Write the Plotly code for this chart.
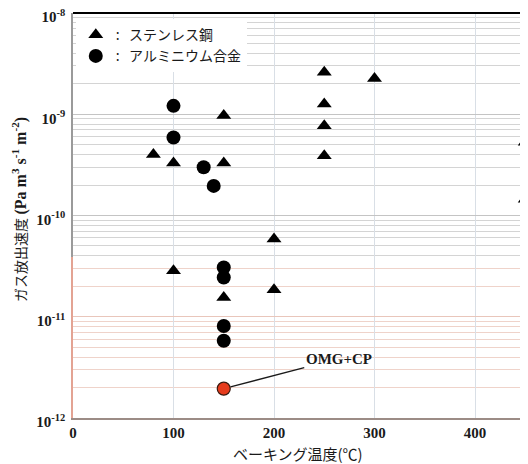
import numpy as np
import plotly.graph_objects as go

# ---------------- data ----------------
steel_name = "ステンレス鋼"
al_name = "アルミニウム合金"

steel_temp = [80, 100, 100, 150, 150, 150, 200, 200, 250, 250, 250, 250, 300, 450, 450]
steel_rate = [4.0e-10, 3.3e-10, 2.85e-11, 9.7e-10, 3.3e-10, 1.55e-11, 5.85e-11, 1.85e-11,
              2.6e-9, 1.26e-9, 7.7e-10, 3.9e-10, 2.25e-9, 5.3e-10, 1.45e-10]

al_temp = [100, 100, 130, 140, 150, 150, 150, 150]
al_rate = [1.21e-9, 5.9e-10, 3.0e-10, 1.96e-10, 3.06e-11, 2.44e-11, 8.1e-12, 5.8e-12]

omg_temp = [150]
omg_rate = [1.95e-12]
omg_label = "OMG+CP"

x_tick_vals = [0, 100, 200, 300, 400]
y_major_vals = [1e-8, 1e-9, 1e-10, 1e-11, 1e-12]
y_major_text = ["10<sup>-8</sup>", "10<sup>-9</sup>", "10<sup>-10</sup>",
                "10<sup>-11</sup>", "10<sup>-12</sup>"]
x_title = "ベーキング温度(℃)"
y_title = ("ガス放出速度 <span style='font-size:16px'><b>(Pa m<sup>3</sup> "
           "s<sup>-1</sup> m<sup>-2</sup>)</b></span>")

# ---------------- layout constants ----------------
# the page body has an 8px default margin, so screen = figure + OFF
OFF = 8
W, H = 528, 464
SCR_L, SCR_T, SCR_B = 73, 13, 418          # plot-area edges on screen
ML, MT = SCR_L - OFF, SCR_T - OFF
MB = H - (SCR_B - OFF)
MR = 0
PW, PH = W - ML - MR, H - MT - MB
PX_PER_DEG = (475 - 73) / 400.0
X_MAX = PW / PX_PER_DEG
Y_LO, Y_HI = -12.0, -8.0
SPLIT = -10.408                            # scan colour change (grey above, salmon below)
frac = (SPLIT - Y_LO) / (Y_HI - Y_LO)

SERIF = "Liberation Serif, Noto Sans CJK JP"
CJK = "Noto Sans CJK JP"

minor_vals = [m * 10.0 ** e for e in range(-12, -8) for m in range(2, 10)]


def split(xs, ys):
    xs, ys = np.asarray(xs, float), np.asarray(ys, float)
    up = np.log10(ys) >= SPLIT
    return (xs[up], ys[up]), (xs[~up], ys[~up])


def px_x(sx):
    return (sx - SCR_L) / PW


def px_y(sy):
    return (SCR_B - sy) / PH


fig = go.Figure()

tri = dict(symbol="triangle-up", size=13, color="black", line=dict(width=0))
cir = dict(symbol="circle", size=14, color="black", line=dict(width=0))
nb = "\u00a0"

for name, xs, ys, mk, grp in [(steel_name, steel_temp, steel_rate, tri, "s"),
                              (al_name, al_temp, al_rate, cir, "a")]:
    (xu, yu), (xl, yl) = split(xs, ys)
    fig.add_trace(go.Scatter(x=xu, y=yu, mode="markers", marker=mk, yaxis="y2",
                             name=":" + nb * 3 + name, legendgroup=grp, showlegend=True,
                             cliponaxis=False))
    fig.add_trace(go.Scatter(x=xl, y=yl, mode="markers", marker=mk, yaxis="y",
                             name=name, legendgroup=grp, showlegend=False,
                             cliponaxis=False))

fig.add_trace(go.Scatter(x=omg_temp, y=omg_rate, mode="markers", yaxis="y",
                         marker=dict(symbol="circle", size=13, color="#e63b1c",
                                     line=dict(width=1.2, color="#3a1a10")),
                         showlegend=False, cliponaxis=False))

fig.add_annotation(x=omg_temp[0], y=np.log10(omg_rate[0]), xref="x", yref="y",
                   text="<b>" + omg_label + "</b>", showarrow=True, arrowhead=0,
                   arrowwidth=1.3, arrowcolor="#1a1a1a", standoff=7,
                   ax=115, ay=-30, font=dict(family=SERIF, size=15, color="#1a1a1a"))

tickfont = dict(family=SERIF, size=15, color="#1a1a1a", weight="bold")
ycommon = dict(type="log", anchor="x", tickmode="array", tickvals=y_major_vals,
               ticktext=y_major_text, ticks="", ticklen=0, showgrid=True, gridwidth=1,
               zeroline=False, tickfont=tickfont, ticklabeloverflow="allow",
               ticklabelshift=4, ticklabelstandoff=3,
               showline=True, linewidth=1.5, automargin=False)

fig.update_layout(
    width=W, height=H,
    margin=dict(l=ML, r=MR, t=MT, b=MB, autoexpand=False),
    paper_bgcolor="white", plot_bgcolor="white",
    showlegend=True,
    legend=dict(x=0.006, y=0.985, xanchor="left", yanchor="top",
                bgcolor="white", borderwidth=0, tracegroupgap=0,
                font=dict(family=CJK, size=14, color="#1a1a1a")),
    xaxis=dict(range=[0, X_MAX], tickvals=x_tick_vals, ticks="",
               showgrid=True, gridcolor="#d9dfe6", gridwidth=1,
               showline=True, linecolor="#9c8c86", linewidth=1.5,
               zeroline=False, tickfont=tickfont, anchor="y"),
    yaxis=dict(ycommon, range=[Y_LO, SPLIT], domain=[0, frac], gridcolor="#e9c6bb",
               minor=dict(tickmode="array", tickvals=minor_vals, showgrid=True,
                          gridcolor="#efd3ca", gridwidth=1, ticks="", ticklen=0),
               linecolor="#e3a393"),
    yaxis2=dict(ycommon, range=[SPLIT, Y_HI], domain=[frac, 1], gridcolor="#c4c4c4",
                minor=dict(tickmode="array", tickvals=minor_vals, showgrid=True,
                           gridcolor="#d4d4d4", gridwidth=1, ticks="", ticklen=0),
                linecolor="#9a9a9a"),
)

# heavy top frame line of the scanned figure
fig.add_shape(type="line", xref="paper", yref="paper", x0=0, x1=1, y0=1, y1=1,
              line=dict(color="black", width=2))

# axis titles
fig.add_annotation(xref="paper", yref="paper", x=px_x(298), y=px_y(453),
                   xanchor="center", yanchor="middle", showarrow=False, text=x_title,
                   font=dict(family=CJK, size=15, color="#1a1a1a"))
fig.add_annotation(xref="paper", yref="paper", x=px_x(20), y=px_y(210),
                   xanchor="center", yanchor="middle", showarrow=False, text=y_title,
                   textangle=-90, font=dict(family=SERIF, size=14, color="#1a1a1a"))

fig.write_html("out.html")
